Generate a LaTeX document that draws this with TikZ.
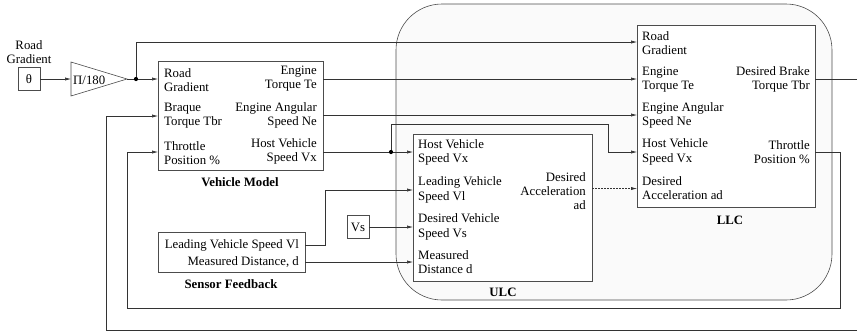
\documentclass[tikz,border=0pt]{standalone}
\usepackage{fontspec}
\setmainfont{Liberation Serif}
\newfontfamily\diagfont{Liberation Serif}
\usetikzlibrary{arrows.meta}
\begin{document}
\begin{tikzpicture}[x=1pt,y=-1pt,
  font=\diagfont\fontsize{12.8}{14.2}\selectfont,
  box/.style={draw=black!70,line width=0.6pt,fill=white,inner sep=0pt},
  lbl/.style={align=left,anchor=west,inner sep=0pt,font=\diagfont\fontsize{12.8}{14.2}\selectfont},
  lblr/.style={align=right,anchor=east,inner sep=0pt,font=\diagfont\fontsize{12.8}{14.2}\selectfont},
  lblc/.style={align=center,inner sep=0pt,font=\diagfont\fontsize{12.8}{14.2}\selectfont},
  ttl/.style={inner sep=0pt,font=\diagfont\fontsize{12.8}{14.2}\selectfont\bfseries},
  wire/.style={draw=black!80,line width=0.6pt},
  arr/.style={wire,-{Latex[length=6pt,width=3.2pt]}},
  dot/.style={circle,fill=black,inner sep=0pt,minimum size=4.2pt}]
\useasboundingbox (0,0) rectangle (857,333);
% background controller region
\draw[draw=black!70,line width=0.6pt,fill=black!2,rounded corners=46pt] (396,4) rectangle (832,300);

% road gradient input
\node[lblc] (rgl) at (29,52) {Road\\Gradient};
\node[box,minimum width=22pt,minimum height=23pt,font=\diagfont\fontsize{12.8}{14.2}\selectfont] (th) at (29,79) {θ};
\draw[draw=black!70,line width=0.6pt,fill=white] (71,62) -- (127,79) -- (71,96) -- cycle;
\node[lbl] (gain) at (73,80) {Π/180};
\coordinate (gainIn) at (71,79);
\coordinate (gainOut) at (127,79);
\node[dot] (dot1) at (136,79) {};

% vehicle model
\node[box,anchor=north west,minimum width=165pt,minimum height=109pt] (vm) at (158,61) {};
\node[lbl] (vml1) at (164,80) {Road\\Gradient};
\node[lbl] (vml2) at (164,116) {Braque\\Torque Tbr};
\node[lbl] (vml3) at (164,153.5) {Throttle\\Position \%};
\node[lblr] (vmr1) at (317,78.5) {Engine\\Torque Te};
\node[lblr] (vmr2) at (317,115.5) {Engine Angular\\Speed Ne};
\node[lblr] (vmr3) at (317,151.5) {Host Vehicle\\Speed Vx};
\node[ttl] (vmt) at (240,182) {Vehicle Model};
\coordinate (vmIn1) at (158,79);
\coordinate (vmIn2) at (158,116);
\coordinate (vmIn3) at (158,152);
\coordinate (vmOut1) at (323,79);
\coordinate (vmOut2) at (323,115);
\coordinate (vmOut3) at (323,152);

% sensor feedback
\node[box,anchor=north west,minimum width=147pt,minimum height=40pt] (sf) at (158,232) {};
\node[lblr] (sfl1) at (299,245) {Leading Vehicle Speed Vl};
\node[lblr] (sfl2) at (299,262) {Measured Distance, d};
\node[ttl] (sft) at (231,284) {Sensor Feedback};
\coordinate (sfOut1) at (305,245);
\coordinate (sfOut2) at (305,262);

% Vs
\node[box,minimum width=22pt,minimum height=23pt,font=\diagfont\fontsize{12.8}{14.2}\selectfont] (vs) at (358,227) {Vs};

% ULC
\node[box,anchor=north west,minimum width=179pt,minimum height=147pt] (ulc) at (413,134) {};
\node[lbl] (ul1) at (418,152.5) {Host Vehicle\\Speed Vx};
\node[lbl] (ul2) at (418,190) {Leading Vehicle\\Speed Vl};
\node[lbl] (ul3) at (418,227) {Desired Vehicle\\Speed Vs};
\node[lbl] (ul4) at (418,262) {Measured\\Distance d};
\node[lblr] (ur1) at (586,191) {Desired\\Acceleration\\ad};
\node[ttl] (ult) at (503,292) {ULC};
\coordinate (ulcIn1) at (413,152);
\coordinate (ulcIn2) at (413,190);
\coordinate (ulcIn3) at (413,227);
\coordinate (ulcIn4) at (413,262);
\coordinate (ulcOut) at (592,188.5);

% LLC
\node[box,anchor=north west,minimum width=178pt,minimum height=182pt] (llc) at (637,25) {};
\node[lbl] (ll1) at (642,43.5) {Road\\Gradient};
\node[lbl] (ll2) at (642,80) {Engine\\Torque Te};
\node[lbl] (ll3) at (642,115.5) {Engine Angular\\Speed Ne};
\node[lbl] (ll4) at (642,152) {Host Vehicle\\Speed Vx};
\node[lbl] (ll5) at (642,188) {Desired\\Acceleration ad};
\node[lblr] (lr1) at (810,79.5) {Desired Brake\\Torque Tbr};
\node[lblr] (lr2) at (810,152) {Throttle\\Position \%};
\node[ttl] (llt) at (730,220) {LLC};
\coordinate (llcIn1) at (637,42);
\coordinate (llcIn2) at (637,79);
\coordinate (llcIn3) at (637,115);
\coordinate (llcIn4) at (637,152);
\coordinate (llcIn5) at (637,188.5);
\coordinate (llcOut1) at (815,79);
\coordinate (llcOut2) at (815,152);

% helper corners
\coordinate (dot2) at (391,152);
\coordinate (k1) at (608,124);
\coordinate (k2) at (325,190);
\coordinate (edgeR) at (857,79);
\coordinate (edgeB) at (857,330);
\coordinate (fbB) at (106,330);
\coordinate (c1) at (840,308);
\coordinate (c2) at (127,308);

% connectors
\draw[arr] (th.east) -- (gainIn);
\draw[wire] (gainOut) -- (dot1);
\draw[arr] (dot1) -- (vmIn1);
\draw[arr] (dot1) |- (llcIn1);
\draw[arr] (vmOut1) -- (llcIn2);
\draw[arr] (vmOut2) -- (llcIn3);
\draw[wire] (vmOut3) -- (dot2);
\draw[arr] (dot2) -- (ulcIn1);
\draw[arr] (dot2) |- (k1) |- (llcIn4);
\draw[wire] (llcOut1) -- (edgeR);
\draw[arr] (edgeB) -- (fbB) |- (vmIn2);
\draw[arr] (llcOut2) -| (c1) -- (c2) |- (vmIn3);
\draw[arr] (sfOut1) -| (k2) -- (ulcIn2);
\draw[arr] (sfOut2) -- (ulcIn4);
\draw[arr] (vs.east) -- (ulcIn3);
\draw[arr,dash pattern=on 2pt off 1pt] (ulcOut) -- (llcIn5);
\fill[black] (dot2) circle (2.1pt);
\end{tikzpicture}
\end{document}
